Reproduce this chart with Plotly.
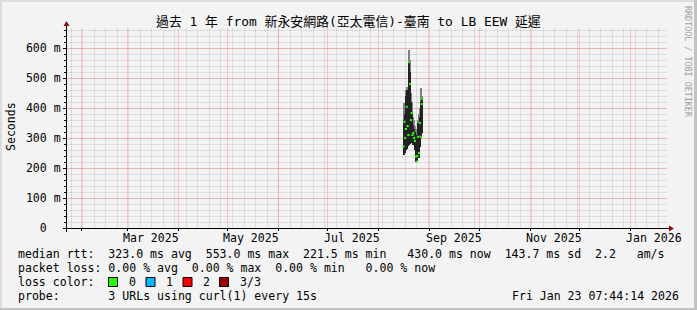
import plotly.graph_objects as go

# ---------------- data ----------------
title_text = "過去 1 年 from 新永安網路(亞太電信)-臺南 to LB EEW 延遲"
range_start = "2025-01-23 07:44:14"
range_end = "2026-01-23 07:44:14"

times = [
    "2025-08-16 00:00", "2025-08-16 12:00", "2025-08-17 00:00", "2025-08-17 12:00",
    "2025-08-18 00:00", "2025-08-18 12:00", "2025-08-19 00:00", "2025-08-19 12:00",
    "2025-08-20 00:00", "2025-08-20 12:00", "2025-08-21 00:00", "2025-08-21 12:00",
    "2025-08-22 00:00", "2025-08-22 12:00", "2025-08-23 00:00", "2025-08-23 12:00",
    "2025-08-24 00:00", "2025-08-24 12:00", "2025-08-25 00:00", "2025-08-25 12:00",
    "2025-08-26 00:00", "2025-08-26 12:00", "2025-08-27 00:00", "2025-08-27 12:00",
]
# smoke extents (ms)
smoke_top = [417, 417, 400, 460, 470, 440, 460, 593, 560, 450, 420, 400,
             370, 360, 340, 330, 330, 330, 360, 380, 400, 467, 450, 440]
smoke_hi = [360, 354, 380, 440, 460, 404, 400, 557, 520, 420, 383, 370,
            343, 330, 320, 310, 300, 290, 350, 340, 370, 421, 421, 433]
smoke_lo = [250, 243, 250, 260, 265, 270, 275, 277, 280, 285, 290, 300,
            277, 280, 260, 221, 222, 225, 235, 233, 270, 300, 300, 317]
median_ms = [271, 354, 300, 330, 404, 340, 310, 553, 480, 360, 383, 310,
             317, 300, 290, 238, 221.5, 240, 304, 250, 350, 304, 413, 430]

month_starts = ["2025-02-01", "2025-03-01", "2025-04-01", "2025-05-01", "2025-06-01",
                "2025-07-01", "2025-08-01", "2025-09-01", "2025-10-01", "2025-11-01",
                "2025-12-01", "2026-01-01"]
label_dates = ["2025-03-15 12:00", "2025-05-15 12:00", "2025-07-15 12:00",
               "2025-09-15 12:00", "2025-11-15 12:00", "2026-01-15 12:00"]
label_texts = ["Mar 2025", "May 2025", "Jul 2025", "Sep 2025", "Nov 2025", "Jan 2026"]

y_tickvals = [0, 100, 200, 300, 400, 500, 600]
y_ticktext = ["0\u00a0\u00a0", "100 m", "200 m", "300 m", "400 m", "500 m", "600 m"]

loss_labels = ["0", "1", "2", "3/3"]
loss_colors = ["#26ff00", "#00b8ff", "#ff0000", "#a00000"]

stats_rtt = "median rtt:  323.0 ms avg  553.0 ms max  221.5 ms min   430.0 ms now  143.7 ms sd  2.2   am/s"
stats_loss = "packet loss: 0.00 % avg  0.00 % max  0.00 % min   0.00 % now"
probe_text = "probe:       3 URLs using curl(1) every 15s"
stamp_text = "Fri Jan 23 07:44:14 2026"

# ---------------- geometry helpers ----------------
W, H = 697, 310
L, R, T, B = 67, 667, 28, 228


def px(x):
    return (x - L) / (R - L)


def py(y):
    return (B - y) / (B - T)


def nb(s):
    return s.replace(" ", "\u00a0")


FONT = "DejaVu Sans Mono, Noto Sans CJK TC, monospace"
FS = 11.55
BG = "#f3f3f3"
MAJ = "rgba(255,60,60,0.24)"
MIN = "rgba(100,100,100,0.15)"

fig = go.Figure()

bw = 12 * 3600 * 1000
fig.add_trace(go.Bar(
    x=times, y=[t - l for t, l in zip(smoke_top, smoke_lo)], base=smoke_lo,
    width=bw, marker=dict(color="#808080", line=dict(width=0)), hoverinfo="skip",
))
fig.add_trace(go.Bar(
    x=times, y=[h - l for h, l in zip(smoke_hi, smoke_lo)], base=smoke_lo,
    width=bw, marker=dict(color="#222222", line=dict(width=0)), hoverinfo="skip",
))
fig.add_trace(go.Scatter(
    x=times, y=median_ms, mode="markers",
    marker=dict(symbol="square", size=2.1, color=loss_colors[0], line=dict(width=0)),
    hoverinfo="skip",
))

fig.update_layout(
    width=W, height=H, autosize=False,
    margin=dict(l=L, r=W - R, t=T, b=H - B, pad=0),
    paper_bgcolor=BG, plot_bgcolor=BG,
    showlegend=False, barmode="overlay", bargap=0,
    font=dict(family=FONT, size=FS, color="#000000"),
    xaxis=dict(
        type="date", range=[range_start, range_end],
        tickmode="array", tickvals=month_starts, showticklabels=False,
        ticks="outside", ticklen=2, tickcolor="#000000",
        showgrid=True, gridcolor=MAJ, gridwidth=1,
        minor=dict(dtick=7 * 86400000, tick0="2025-01-26", showgrid=True,
                   gridcolor=MIN, ticks=""),
        showline=False, zeroline=False, fixedrange=True,
    ),
    yaxis=dict(
        range=[0, 2000 / 3], tickmode="array", tickvals=y_tickvals, ticktext=y_ticktext,
        ticks="outside", ticklen=3, tickcolor="#000000",
        showgrid=True, gridcolor=MAJ,
        minor=dict(dtick=20, showgrid=True, gridcolor=MIN,
                   ticks="outside", ticklen=2, tickcolor="#000000"),
        showline=False, zeroline=False, fixedrange=True,
        tickfont=dict(family=FONT, size=FS, color="#000000"),
    ),
)

shapes = []
# axis lines
shapes.append(dict(type="line", xref="paper", yref="paper",
                   x0=px(63), x1=px(670), y0=py(228.5), y1=py(228.5),
                   line=dict(color="#000000", width=1)))
shapes.append(dict(type="line", xref="paper", yref="paper",
                   x0=px(66.5), x1=px(66.5), y0=py(232), y1=py(25),
                   line=dict(color="#000000", width=1)))
# arrow heads
shapes.append(dict(type="path", xref="paper", yref="paper",
                   path=f"M {px(669)},{py(225.5)} L {px(674)},{py(228.5)} L {px(669)},{py(231.5)} Z",
                   fillcolor="#8b1010", line=dict(width=0)))
shapes.append(dict(type="path", xref="paper", yref="paper",
                   path=f"M {px(63.5)},{py(26)} L {px(66.5)},{py(21)} L {px(69.5)},{py(26)} Z",
                   fillcolor="#8b1010", line=dict(width=0)))
# frame bevel
shapes.append(dict(type="rect", xref="paper", yref="paper", x0=px(0), x1=px(697),
                   y0=py(0), y1=py(2), fillcolor="#dcdcdc", line=dict(width=0), layer="below"))
shapes.append(dict(type="rect", xref="paper", yref="paper", x0=px(0), x1=px(2),
                   y0=py(0), y1=py(310), fillcolor="#dcdcdc", line=dict(width=0), layer="below"))
shapes.append(dict(type="rect", xref="paper", yref="paper", x0=px(694), x1=px(697),
                   y0=py(0), y1=py(310), fillcolor="#c2c2c2", line=dict(width=0), layer="below"))
shapes.append(dict(type="rect", xref="paper", yref="paper", x0=px(0), x1=px(697),
                   y0=py(308), y1=py(310), fillcolor="#c2c2c2", line=dict(width=0), layer="below"))
# loss colour boxes
box_x = [108, 145.5, 182.5, 219]
for bx, col in zip(box_x, loss_colors):
    shapes.append(dict(type="rect", xref="paper", yref="paper",
                       x0=px(bx + 0.5), x1=px(bx + 9.5), y0=py(277.5), y1=py(286.5),
                       fillcolor=col, line=dict(color="#000000", width=1)))
fig.update_layout(shapes=shapes)

ann = []


def text(x, y, s, xanchor="left", size=FS, color="#000000", angle=0):
    ann.append(dict(x=px(x), y=py(y), xref="paper", yref="paper", text=nb(s),
                    showarrow=False, xanchor=xanchor, yanchor="middle",
                    textangle=angle, font=dict(family=FONT, size=size, color=color)))


# x-axis month labels, positioned on the date axis
for d, lab in zip(label_dates, label_texts):
    ann.append(dict(x=d, y=py(237.5), xref="x", yref="paper", text=nb(lab),
                    showarrow=False, xanchor="center", yanchor="middle",
                    font=dict(family=FONT, size=FS, color="#000000")))

text(348, 21, title_text, xanchor="center", size=12.9)
text(11, 127, "Seconds", xanchor="center", angle=-90)
text(688, 62, "RRDTOOL / TOBI OETIKER", xanchor="center", size=8.4, color="#a0a0a0", angle=90)
text(16, 254, stats_rtt)
text(16, 268, stats_loss)
text(16, 282, "loss color:")
for bx, lab in zip(box_x, loss_labels):
    text(bx + 18.5, 282, lab)
text(16, 296, probe_text)
text(681, 296, stamp_text, xanchor="right")
fig.update_layout(annotations=ann)

fig.write_html("out.html")
